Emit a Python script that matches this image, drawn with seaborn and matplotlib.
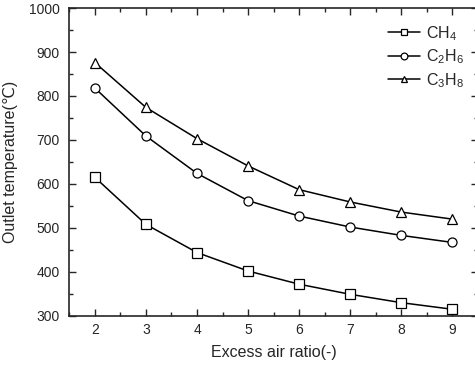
import numpy as np
import pandas as pd
import matplotlib
matplotlib.use("Agg")
import matplotlib.pyplot as plt
from matplotlib.ticker import MultipleLocator
import seaborn as sns

# data
excess_air = [2, 3, 4, 5, 6, 7, 8, 9]
ch4 = [615, 508, 444, 402, 372, 349, 330, 315]
c2h6 = [818, 709, 624, 562, 527, 502, 483, 467]
c3h8 = [876, 774, 703, 641, 587, 559, 536, 520]
labels = [r"CH$_\mathregular{4}$", r"C$_\mathregular{2}$H$_\mathregular{6}$", r"C$_\mathregular{3}$H$_\mathregular{8}$"]

df = pd.concat([
    pd.DataFrame({"x": excess_air, "y": vals, "gas": lab})
    for vals, lab in zip([ch4, c2h6, c3h8], labels)
])

sns.set_style("ticks")
plt.rcParams['font.family'] = ['Liberation Sans', 'DejaVu Sans']
plt.rcParams['mathtext.default'] = 'regular'

fig = plt.figure(figsize=(4.75, 3.66), dpi=100)
ax = fig.add_axes([0.146, 0.137, 0.86, 0.841])

sns.lineplot(data=df, x="x", y="y", hue="gas", style="gas",
             palette=["black"] * 3, markers=["s", "o", "^"], dashes=False,
             markersize=6.5, markerfacecolor="white", markeredgecolor="black",
             markeredgewidth=0.9, linewidth=1.1, ax=ax)

ax.set_xlim(1.5, 9.5)
ax.set_ylim(300, 1000)
ax.xaxis.set_major_locator(MultipleLocator(1))
ax.xaxis.set_minor_locator(MultipleLocator(0.5))
ax.yaxis.set_major_locator(MultipleLocator(100))
ax.yaxis.set_minor_locator(MultipleLocator(50))
ax.tick_params(which="both", direction="in", top=True, right=True, width=1)
ax.tick_params(which="major", length=5, labelsize=10)
ax.tick_params(axis="x", pad=5)
ax.tick_params(axis="y", pad=7)
ax.tick_params(which="minor", length=3)
for sp in ax.spines.values():
    sp.set_linewidth(1.2)

ax.set_xlabel("Excess air ratio(-)", fontsize=11.5, labelpad=6)
ax.set_ylabel("Outlet temperature(℃)", fontsize=11.5, labelpad=8)

leg = ax.legend(loc="upper right", frameon=False, fontsize=11.5,
                handlelength=2.0, handletextpad=0.35, labelspacing=0.3,
                markerscale=0.75, bbox_to_anchor=(1.0, 0.995))

fig.savefig("out.png", dpi=100)
